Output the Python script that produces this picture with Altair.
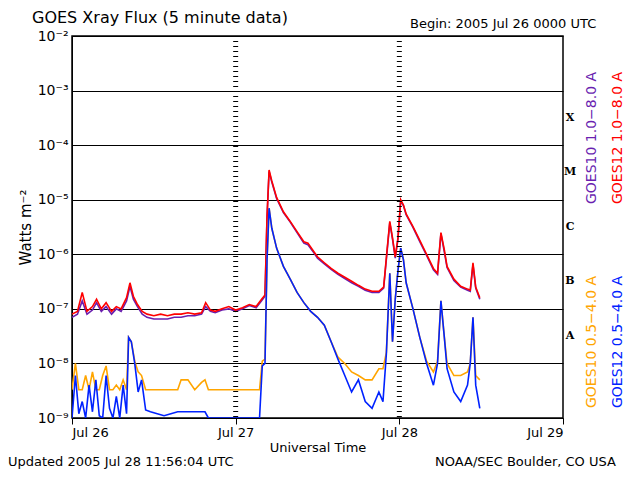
import altair as alt
import pandas as pd

# hours since 2005 Jul 26 0000 UTC
HOURS_LONG = [0, 0.8, 1.5, 2.2, 3, 3.6, 4.3, 5, 5.8, 6.5, 7.2, 8, 8.5, 9, 9.6, 10.3, 11, 12, 13, 14, 15, 16,
              17, 18, 19, 19.6, 20.3, 21, 22, 23, 24, 25, 26, 27, 27.8, 28.3, 28.6, 28.9, 29.3, 30, 31, 32,
              33, 34, 34.6, 35.5, 36, 37, 38, 39, 40, 41, 42, 43, 44, 45, 45.7, 46.2, 46.6, 47.0, 47.4,
              47.8, 48.2, 48.6, 49, 50, 51, 52, 53, 53.6, 54.1, 54.6, 55, 56, 57, 58, 58.4, 58.8, 59.2, 59.8]
GOES12_LONG = [8e-8, 9e-8, 2e-7, 9e-8, 1.1e-7, 1.5e-7, 1e-7, 1.3e-7, 9e-8, 1.1e-7, 1e-7, 1.6e-7, 3e-7,
               1.7e-7, 1.2e-7, 9e-8, 8e-8, 7.5e-8, 8e-8, 7.5e-8, 8e-8, 8e-8, 8.5e-8, 8e-8, 8.5e-8,
               1.3e-7, 9.5e-8, 9e-8, 1e-7, 1.1e-7, 9.5e-8, 1.05e-7, 1.2e-7, 1.1e-7, 1.5e-7, 1.8e-7,
               5e-6, 3.5e-5, 2.2e-5, 1.1e-5, 6e-6, 4e-6, 2.6e-6, 1.7e-6, 1.6e-6, 1.1e-6, 9e-7, 7e-7,
               5.5e-7, 4.5e-7, 3.8e-7, 3.2e-7, 2.7e-7, 2.3e-7, 2.1e-7, 2.1e-7, 2.5e-7, 1.2e-6, 4e-6,
               2e-6, 9e-7, 2e-6, 1e-5, 8e-6, 5.5e-6, 3.2e-6, 1.8e-6, 1e-6, 5.5e-7, 4.5e-7, 2.5e-6,
               1.2e-6, 6e-7, 3.5e-7, 2.6e-7, 2.3e-7, 2.2e-7, 7e-7, 2.5e-7, 1.6e-7]
GOES10_LONG = [7e-8, 8e-8, 1.4e-7, 8e-8, 9.5e-8, 1.3e-7, 9e-8, 1.1e-7, 8e-8, 1e-7, 9e-8, 1.4e-7, 2.6e-7,
               1.5e-7, 1.1e-7, 8e-8, 7e-8, 6.5e-8, 6.5e-8, 6.5e-8, 7e-8, 7e-8, 7.5e-8, 7.5e-8, 8e-8,
               1.1e-7, 9e-8, 8.5e-8, 9.5e-8, 1e-7, 9e-8, 1e-7, 1.15e-7, 1.05e-7, 1.4e-7, 1.7e-7,
               4.8e-6, 3.3e-5, 2.1e-5, 1.05e-5, 5.8e-6, 3.9e-6, 2.5e-6, 1.6e-6, 1.5e-6, 1.05e-6, 8.5e-7,
               6.7e-7, 5.3e-7, 4.3e-7, 3.6e-7, 3e-7, 2.6e-7, 2.2e-7, 2e-7, 2e-7, 2.4e-7, 1.1e-6, 3.8e-6,
               1.9e-6, 8.5e-7, 1.9e-6, 9.5e-6, 7.8e-6, 5.3e-6, 3.1e-6, 1.7e-6, 9.5e-7, 5.2e-7, 4.3e-7,
               2.4e-6, 1.1e-6, 5.7e-7, 3.3e-7, 2.5e-7, 2.2e-7, 2.1e-7, 6.5e-7, 2.4e-7, 1.5e-7]

HOURS_SHORT = [0, 0.5, 1, 1.5, 2, 2.5, 3, 3.5, 4, 4.5, 5, 5.5, 6, 6.5, 7, 7.5, 8, 8.3, 8.7, 9.2, 9.7, 10.2,
               10.8, 11.5, 12.5, 13.5, 14.5, 15.5, 16, 17, 18, 19, 19.5, 20, 21, 22, 23, 24, 25, 26,
               27, 27.5, 27.9, 28.3, 28.6, 28.9, 29.3, 30, 31, 32, 33, 34, 35, 36, 37, 38, 39, 40, 41,
               42, 43, 44, 45, 45.6, 46.1, 46.6, 47.0, 47.4, 47.8, 48.2, 48.6, 49, 50, 51, 52, 53, 53.6,
               54.1, 54.6, 55, 56, 57, 58, 58.4, 58.8, 59.2, 59.8]
GOES12_SHORT = [1e-9, 6e-9, 1.2e-9, 2e-9, 1e-9, 4e-9, 1.3e-9, 5e-9, 1.1e-9, 1e-9, 6e-9, 1.5e-9, 1e-9,
                2.5e-9, 1e-9, 4e-9, 1.2e-9, 3e-8, 2.5e-8, 1e-8, 3e-9, 5e-9, 1.4e-9, 1.3e-9, 1.2e-9,
                1.1e-9, 1.2e-9, 1.3e-9, 1.3e-9, 1.3e-9, 1.3e-9, 1.3e-9, 1.3e-9, 8e-10, 8e-10, 8e-10,
                8e-10, 8e-10, 8e-10, 8e-10, 8e-10, 8e-10, 9e-9, 1e-8, 8e-7, 7e-6, 3e-6, 1.3e-6, 6e-7,
                3.5e-7, 2e-7, 1.3e-7, 9e-8, 7e-8, 5e-8, 2.5e-8, 1.2e-8, 6e-9, 3e-9, 5e-9, 2e-9, 1.5e-9,
                3e-9, 2e-9, 1.5e-8, 4.5e-7, 2.5e-8, 1.5e-7, 5e-7, 1.3e-6, 8e-7, 3e-7, 1e-7, 3e-8,
                1e-8, 4e-9, 1e-8, 1.4e-7, 3e-8, 8e-9, 3e-9, 2e-9, 4e-9, 1e-8, 7e-8, 4e-9, 1.5e-9]
GOES10_SHORT = [3.3e-9, 1e-8, 3.3e-9, 3.3e-9, 6e-9, 3.3e-9, 7e-9, 3.3e-9, 3.3e-9, 6e-9, 9e-9, 3.3e-9,
                3.3e-9, 4e-9, 3.3e-9, 5e-9, 3.3e-9, 3e-8, 2.5e-8, 1.1e-8, 7e-9, 6e-9, 3.3e-9, 3.3e-9,
                3.3e-9, 3.3e-9, 3.3e-9, 3.3e-9, 5e-9, 5e-9, 3.3e-9, 4.5e-9, 5e-9, 3.3e-9, 3.3e-9,
                3.3e-9, 3.3e-9, 3.3e-9, 3.3e-9, 3.3e-9, 3.3e-9, 3.3e-9, 1.1e-8, 1.2e-8, 8e-7, 7e-6,
                3e-6, 1.3e-6, 6e-7, 3.5e-7, 2e-7, 1.3e-7, 9e-8, 7e-8, 5e-8, 2.5e-8, 1.3e-8, 1e-8,
                7e-9, 6e-9, 5e-9, 5e-9, 8e-9, 8e-9, 1.6e-8, 4.5e-7, 2.5e-8, 1.5e-7, 5e-7, 1.3e-6, 8e-7,
                3e-7, 1e-7, 3e-8, 1.1e-8, 7e-9, 1.1e-8, 1.4e-7, 3e-8, 1e-8, 6e-9, 6e-9, 7e-9, 1e-8,
                7e-8, 6e-9, 5e-9]

FLARE_CLASSES = ["A", "B", "C", "M", "X"]
CLASS_FLUX = [3.2e-8, 3.2e-7, 3.2e-6, 3.2e-5, 3.2e-4]
DAY_LABELS = ["Jul 26", "Jul 27", "Jul 28", "Jul 29"]

W, H = 491, 382
FONT = "DejaVu Sans"

rows = []
for name, hrs, vals in [
    ("GOES10 long", HOURS_LONG, GOES10_LONG),
    ("GOES12 long", HOURS_LONG, GOES12_LONG),
    ("GOES10 short", HOURS_SHORT, GOES10_SHORT),
    ("GOES12 short", HOURS_SHORT, GOES12_SHORT),
]:
    for h, v in zip(hrs, vals):
        rows.append({"series": name, "hour": h, "flux": max(v, 8e-10)})
data = pd.DataFrame(rows)

x_scale = alt.Scale(domain=[0, 72], nice=False)
y_scale = alt.Scale(type="log", domain=[1e-9, 1e-2], nice=False, clamp=True)
colors = alt.Scale(
    domain=["GOES10 long", "GOES12 long", "GOES10 short", "GOES12 short"],
    range=["#6a1fb0", "#ff0000", "#ffa500", "#0022ff"],
)

exp_labels = "['10⁻⁹','10⁻⁸','10⁻⁷','10⁻⁶','10⁻⁵','10⁻⁴','10⁻³','10⁻²'][round(log(datum.value)/LN10)+9]"
day_expr = "['Jul 26','Jul 27','Jul 28','Jul 29'][round(datum.value/24)]"

lines = alt.Chart(data).mark_line(strokeWidth=1.6, clip=True).encode(
    x=alt.X("hour:Q", scale=x_scale, title="Universal Time",
            axis=alt.Axis(values=[0, 24, 48, 72], labelExpr=day_expr, grid=False, tickSize=6,
                          labelFont=FONT, labelFontSize=13, titleFont=FONT, titleFontSize=13,
                          titleFontWeight="normal", labelColor="black", titleColor="black",
                          domainColor="black", tickColor="black", titlePadding=2)),
    y=alt.Y("flux:Q", scale=y_scale, title="Watts m⁻²",
            axis=alt.Axis(values=[1e-9, 1e-8, 1e-7, 1e-6, 1e-5, 1e-4, 1e-3, 1e-2], labelExpr=exp_labels,
                          grid=True, gridColor="black", gridOpacity=1, tickSize=0,
                          labelFont=FONT, labelFontSize=14, titleFont=FONT, titleFontSize=15,
                          titleFontWeight="normal", labelColor="black", titleColor="black",
                          domainColor="black", labelPadding=4)),
    color=alt.Color("series:N", scale=colors, legend=None),
    detail="series:N",
)

days = pd.DataFrame({"hour": [24, 48]})
day_rules = alt.Chart(days).mark_rule(color="black", strokeDash=[1, 4], strokeWidth=5).encode(
    x=alt.X("hour:Q", scale=x_scale)
)

classes = pd.DataFrame({"cls": FLARE_CLASSES, "flux": CLASS_FLUX})
class_text = alt.Chart(classes).mark_text(font="DejaVu Serif", fontSize=11, fontWeight="bold").encode(
    x=alt.value(W + 7), y=alt.Y("flux:Q", scale=y_scale), text="cls:N"
)

labels = pd.DataFrame({
    "t": ["GOES Xray Flux (5 minute data)", "Begin:  2005 Jul 26 0000 UTC",
          "Updated 2005 Jul 28 11:56:04 UTC", "NOAA/SEC Boulder, CO USA"],
    "x": [-40, 338, -64, 363], "y": [-18, -12, 426, 426], "size": [16, 13, 13, 13],
})
head_text = alt.Chart(labels).mark_text(font=FONT, align="left", color="black").encode(
    x=alt.X("x:Q", scale=None), y=alt.Y("y:Q", scale=None), text="t:N",
    size=alt.Size("size:Q", scale=None, legend=None),
)

legend = pd.DataFrame({
    "t": ["GOES10 1.0−8.0 A", "GOES12 1.0−8.0 A", "GOES10 0.5−4.0 A", "GOES12 0.5−4.0 A"],
    "x": [W + 29, W + 55, W + 29, W + 55], "y": [102, 102, 306, 306],
    "c": ["#6a1fb0", "#ff0000", "#ffa500", "#0022ff"],
})
legend_text = alt.Chart(legend).mark_text(font=FONT, fontSize=14, angle=270, baseline="middle").encode(
    x=alt.X("x:Q", scale=None), y=alt.Y("y:Q", scale=None), text="t:N",
    color=alt.Color("c:N", scale=None),
)

chart = (
    alt.layer(lines, day_rules, class_text, head_text, legend_text)
    .properties(width=W, height=H, padding={"left": 64, "top": 28, "right": 69, "bottom": 54},
                autosize=alt.AutoSizeParams(type="none"), background="white")
    .configure_view(stroke="black", strokeWidth=1.5)
)

chart.save("out.html", embed_options={"renderer": "svg", "actions": False})
